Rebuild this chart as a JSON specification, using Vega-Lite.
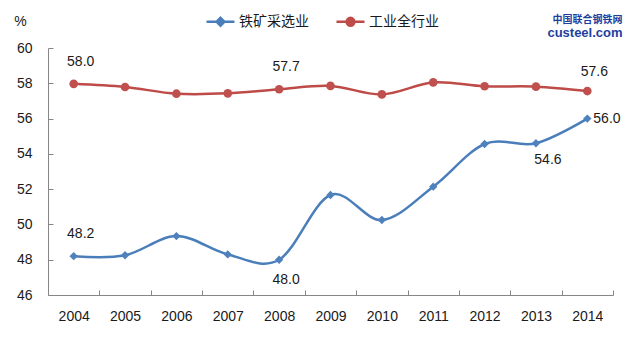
{
  "$schema": "https://vega.github.io/schema/vega-lite/v6.json",
  "width": 565,
  "height": 247,
  "autosize": {"type": "none"},
  "padding": {"left": 48, "top": 48, "right": 12, "bottom": 62},
  "background": "white",
  "title": {
    "text": "中国联合钢铁网",
    "subtitle": "custeel.com",
    "anchor": "end",
    "orient": "top",
    "offset": -34,
    "dx": 2,
    "fontSize": 10,
    "font": "Noto Sans CJK SC",
    "fontWeight": "bold",
    "color": "#1E3F9E",
    "subtitleFont": "Liberation Sans",
    "subtitleFontSize": 13,
    "subtitleFontWeight": "bold",
    "subtitleColor": "#1E3F9E",
    "subtitlePadding": 2
  },
  "config": {
    "view": {"stroke": null},
    "axis": {
      "domainColor": "#868686",
      "tickColor": "#868686",
      "labelColor": "#1a1a1a",
      "labelFont": "Liberation Sans",
      "labelFontSize": 14,
      "grid": false
    }
  },
  "data": {
    "values": [
      {"year": "2004", "series": "铁矿采选业", "value": 48.2},
      {"year": "2005", "series": "铁矿采选业", "value": 48.25},
      {"year": "2006", "series": "铁矿采选业", "value": 49.34},
      {"year": "2007", "series": "铁矿采选业", "value": 48.3},
      {"year": "2008", "series": "铁矿采选业", "value": 48.0},
      {"year": "2009", "series": "铁矿采选业", "value": 51.67},
      {"year": "2010", "series": "铁矿采选业", "value": 50.25},
      {"year": "2011", "series": "铁矿采选业", "value": 52.14},
      {"year": "2012", "series": "铁矿采选业", "value": 54.56},
      {"year": "2013", "series": "铁矿采选业", "value": 54.6},
      {"year": "2014", "series": "铁矿采选业", "value": 56.0},
      {"year": "2004", "series": "工业全行业", "value": 57.97},
      {"year": "2005", "series": "工业全行业", "value": 57.79},
      {"year": "2006", "series": "工业全行业", "value": 57.41},
      {"year": "2007", "series": "工业全行业", "value": 57.43},
      {"year": "2008", "series": "工业全行业", "value": 57.66},
      {"year": "2009", "series": "工业全行业", "value": 57.85},
      {"year": "2010", "series": "工业全行业", "value": 57.37},
      {"year": "2011", "series": "工业全行业", "value": 58.05},
      {"year": "2012", "series": "工业全行业", "value": 57.83},
      {"year": "2013", "series": "工业全行业", "value": 57.81},
      {"year": "2014", "series": "工业全行业", "value": 57.56}
    ]
  },
  "encoding": {
    "x": {
      "field": "year",
      "type": "ordinal",
      "scale": {"type": "band", "paddingInner": 0, "paddingOuter": 0},
      "axis": {
        "title": null,
        "labelAngle": 0,
        "tickBand": "extent",
        "tickSize": -5,
        "labelPadding": 19
      }
    },
    "y": {
      "field": "value",
      "type": "quantitative",
      "scale": {"domain": [46, 60], "nice": false, "zero": false},
      "axis": {
        "title": "%",
        "titleAngle": 0,
        "titleX": -28,
        "titleY": -27,
        "titleAlign": "center",
        "titleBaseline": "middle",
        "titleFont": "Liberation Sans",
        "titleFontSize": 14,
        "titleFontWeight": "normal",
        "titleColor": "#1a1a1a",
        "values": [46, 48, 50, 52, 54, 56, 58, 60],
        "tickSize": -5,
        "labelPadding": 21
      }
    }
  },
  "layer": [
    {
      "mark": {"type": "line", "interpolate": "cardinal", "strokeWidth": 2.5},
      "encoding": {
        "color": {
          "field": "series",
          "type": "nominal",
          "sort": ["铁矿采选业", "工业全行业"],
          "scale": {"domain": ["铁矿采选业", "工业全行业"], "range": ["#4A7EBB", "#BE4B48"]},
          "legend": {
            "title": null,
            "orient": "none",
            "direction": "horizontal",
            "legendX": 157,
            "legendY": -42,
            "symbolSize": 784,
            "labelFont": "Noto Sans CJK SC",
            "labelFontSize": 14,
            "labelColor": "#1a1a1a",
            "labelOffset": 3,
            "columnPadding": 22,
            "encode": {
              "symbols": {
                "update": {
                  "shape": {"signal": "datum.value === '铁矿采选业' ? 'M-1,0H1M0,-0.28L0.28,0L0,0.28L-0.28,0Z' : 'M-1,0H1M-0.28,0A0.28,0.28 0 1,0 0.28,0A0.28,0.28 0 1,0 -0.28,0Z'"},
                  "fill": {"signal": "datum.value === '铁矿采选业' ? '#4F81BD' : '#C0504D'"},
                  "stroke": {"signal": "datum.value === '铁矿采选业' ? '#4A7EBB' : '#BE4B48'"},
                  "strokeWidth": {"value": 2.5},
                  "opacity": {"value": 1}
                }
              }
            }
          }
        }
      }
    },
    {
      "transform": [{"filter": "datum.series === '铁矿采选业'"}],
      "mark": {"type": "point", "shape": "diamond", "filled": true, "size": 70, "color": "#4F81BD", "opacity": 1}
    },
    {
      "transform": [{"filter": "datum.series === '工业全行业'"}],
      "mark": {"type": "point", "shape": "circle", "filled": true, "size": 75, "color": "#C0504D", "opacity": 1}
    },
    {
      "transform": [{"filter": "(datum.series === '工业全行业' && (datum.year === '2004' || datum.year === '2008')) || (datum.series === '铁矿采选业' && datum.year === '2004')"}],
      "mark": {"type": "text", "dx": 7, "dy": -22, "font": "Liberation Sans", "fontSize": 14, "color": "#1a1a1a"},
      "encoding": {"text": {"field": "value", "type": "quantitative", "format": ".1f"}}
    },
    {
      "transform": [{"filter": "datum.series === '工业全行业' && datum.year === '2014'"}],
      "mark": {"type": "text", "dx": 7, "dy": -19, "font": "Liberation Sans", "fontSize": 14, "color": "#1a1a1a"},
      "encoding": {"text": {"field": "value", "type": "quantitative", "format": ".1f"}}
    },
    {
      "transform": [{"filter": "datum.series === '铁矿采选业' && datum.year === '2008'"}],
      "mark": {"type": "text", "dx": 7, "dy": 20, "font": "Liberation Sans", "fontSize": 14, "color": "#1a1a1a"},
      "encoding": {"text": {"field": "value", "type": "quantitative", "format": ".1f"}}
    },
    {
      "transform": [{"filter": "datum.series === '铁矿采选业' && datum.year === '2013'"}],
      "mark": {"type": "text", "dx": 12, "dy": 17, "font": "Liberation Sans", "fontSize": 14, "color": "#1a1a1a"},
      "encoding": {"text": {"field": "value", "type": "quantitative", "format": ".1f"}}
    },
    {
      "transform": [{"filter": "datum.series === '铁矿采选业' && datum.year === '2014'"}],
      "mark": {"type": "text", "dx": 6, "dy": 0, "align": "left", "font": "Liberation Sans", "fontSize": 14, "color": "#1a1a1a"},
      "encoding": {"text": {"field": "value", "type": "quantitative", "format": ".1f"}}
    }
  ]
}
